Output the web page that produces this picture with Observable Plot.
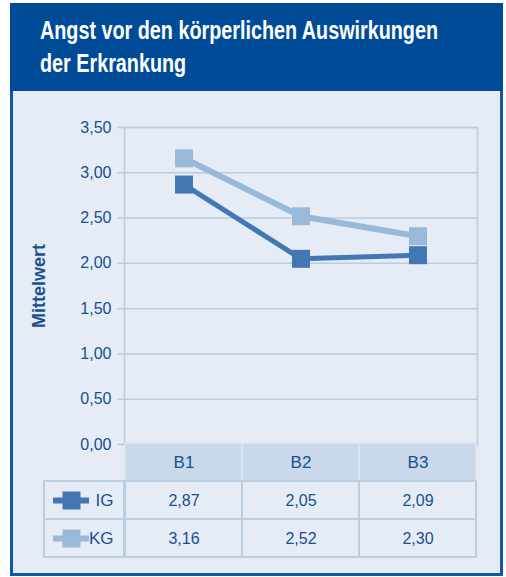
<!DOCTYPE html>
<html><head><meta charset="utf-8">
<script src="https://cdn.jsdelivr.net/npm/d3@7"></script>
<script src="https://cdn.jsdelivr.net/npm/@observablehq/plot@0.6"></script>
<style>
body{margin:0;background:#fff;}
#wrap{position:relative;width:506px;height:577px;overflow:hidden;font-family:"Liberation Sans",sans-serif;}
#head{position:absolute;left:10px;top:3px;width:493px;height:88px;background:#004b98;}
#title{position:absolute;left:30px;top:11px;color:#fff;font-weight:bold;font-size:25px;font-family:"Liberation Sans",sans-serif;line-height:33px;white-space:nowrap;}
#title span{display:block;transform-origin:0 50%;width:max-content;}
#panel{position:absolute;left:10px;top:91px;width:487px;height:482px;background:#e5ecf5;border:3px solid #1158a7;border-top:none;}
.layer{position:absolute;left:0;top:0;}
</style></head>
<body>
<div id="wrap">
  <div id="head"><div id="title"><span id="t1">Angst vor den körperlichen Auswirkungen</span><span id="t2">der Erkrankung</span></div></div>
  <div id="panel"></div>
  <div id="chart" class="layer"></div>
  <div id="table" class="layer"></div>
</div>
<script>
const categories = ["B1", "B2", "B3"];
const seriesNames = ["IG", "KG"];
const igValues = [2.87, 2.05, 2.09];
const kgValues = [3.16, 2.52, 2.30];
const yTicks = [0, 0.5, 1, 1.5, 2, 2.5, 3, 3.5];
const yLabel = "Mittelwert";

// condense the title to the reference width
(function () {
  const t1 = document.getElementById("t1"), t2 = document.getElementById("t2");
  const w = t1.getBoundingClientRect().width;
  const k = 398 / w;
  t1.style.transform = `scaleX(${k})`;
  t2.style.transform = `scaleX(${k})`;
})();

const colors = {IG: "#4277b4", KG: "#9ab8d8"};
const widths = {IG: 5, KG: 6};
const textColor = "#18508f";
const gridColor = "#b8cce3";
const fmt = v => v.toFixed(2).replace(".", ",");

const rows = [];
seriesNames.forEach(s => {
  const vals = s === "IG" ? igValues : kgValues;
  categories.forEach((c, i) => rows.push({series: s, cat: c, value: vals[i]}));
});

const drawOrder = ["KG", "IG"];
const seriesMarks = drawOrder.flatMap(s => {
  const d = rows.filter(r => r.series === s);
  return [
    Plot.line(d, {x: "cat", y: "value", stroke: colors[s], strokeWidth: widths[s]}),
    Plot.dot(d, {x: "cat", y: "value", symbol: "square", r: 10.15, fill: colors[s], stroke: "none"})
  ];
});

const chart = Plot.plot({
  width: 506, height: 577,
  marginLeft: 124, marginRight: 29, marginTop: 127, marginBottom: 133,
  style: {background: "transparent", color: textColor, fontFamily: "Liberation Sans, sans-serif"},
  x: {type: "band", domain: categories, padding: 0, axis: null},
  y: {domain: [0, 3.5], axis: null},
  marks: [
    Plot.ruleY(yTicks, {stroke: gridColor, strokeWidth: 1.5, insetLeft: -7}),
    Plot.frame({stroke: gridColor, strokeWidth: 1.5}),
    Plot.axisY({ticks: yTicks, tickSize: 0, tickPadding: 13, tickFormat: fmt, fontSize: 16, fill: textColor, label: null}),
    Plot.text([yLabel], {frameAnchor: "left", textAnchor: "middle", dx: -85.5, dy: 0, rotate: -90, fontWeight: "bold", fontSize: 18, fill: textColor}),
    ...seriesMarks
  ]
});
document.getElementById("chart").append(chart);

const borderColor = "#bacee4";
const table = Plot.plot({
  width: 506, height: 577,
  marginLeft: 124, marginRight: 29, marginTop: 443, marginBottom: 20,
  style: {background: "transparent", color: textColor, fontFamily: "Liberation Sans, sans-serif"},
  x: {type: "band", domain: categories, padding: 0, axis: null},
  y: {type: "band", domain: ["head", ...seriesNames], padding: 0, axis: null},
  marks: [
    Plot.cell(categories, {x: d => d, y: () => "head", fill: "#c9d9eb", stroke: "#dce6f1", strokeWidth: 1.5}),
    Plot.cell(rows, {x: "cat", y: "series", fill: "none", stroke: borderColor, strokeWidth: 2}),
    Plot.cell(seriesNames, {y: d => d, fill: "none", stroke: borderColor, strokeWidth: 2, insetLeft: -80, insetRight: 353}),
    Plot.ruleY(seriesNames, {y: d => d, stroke: d => colors[d], strokeWidth: 6, insetLeft: -71, insetRight: 388}),
    Plot.dot(seriesNames, {y: d => d, frameAnchor: "left", dx: -53, symbol: "square", r: 10.15, fill: d => colors[d], stroke: "none"}),
    Plot.text(seriesNames, {y: d => d, text: d => d, frameAnchor: "left", dx: -11, textAnchor: "end", fontSize: 17, fill: textColor}),
    Plot.text(categories, {x: d => d, y: () => "head", text: d => d, fontSize: 17, fill: textColor}),
    Plot.text(rows, {x: "cat", y: "series", text: d => fmt(d.value), fontSize: 16, fill: textColor})
  ]
});
document.getElementById("table").append(table);
</script>
</body></html>
